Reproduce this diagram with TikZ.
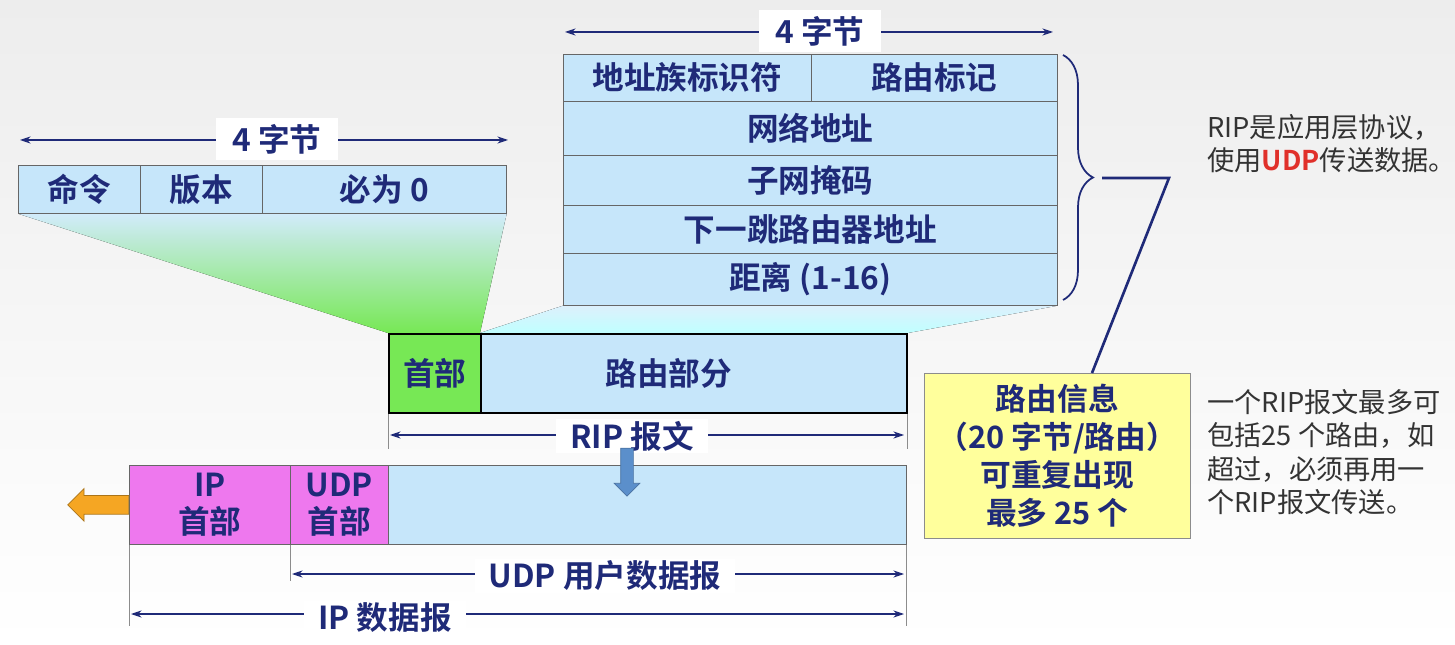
\documentclass[tikz,border=0pt]{standalone}
\usepackage{fontspec}
\setmainfont{Noto Sans CJK SC}[BoldFont=Noto Sans CJK SC Bold]
\usetikzlibrary{arrows.meta,decorations.pathreplacing,shapes.arrows,calc,backgrounds}

\definecolor{labnavy}{HTML}{1F2A78}
\definecolor{cellblue}{HTML}{C6E6FA}
\definecolor{hdrgreen}{HTML}{77E855}
\definecolor{ipmag}{HTML}{EE78EE}
\definecolor{infoyellow}{HTML}{FFFF9C}
\definecolor{textgray}{HTML}{333333}
\definecolor{udpred}{HTML}{E0302A}
\definecolor{downblue}{HTML}{5B8FCB}
\definecolor{outorange}{HTML}{F5A623}
\definecolor{bgtop}{HTML}{EDEDED}

\begin{document}
\begin{tikzpicture}[
  x=0.02cm,y=-0.02cm,
  lab/.style={font=\fontsize{18}{21}\selectfont\bfseries,text=labnavy},
  cell/.style={lab,draw=black!60,fill=cellblue,inner sep=0pt,anchor=north west,align=center},
  ripcell/.style={cell,draw=black,line width=1pt,minimum height=1.58cm},
  bytelab/.style={lab,fill=white,minimum width=2.44cm,minimum height=0.86cm},
  dimlab/.style={lab,fill=white,inner xsep=8pt,inner ysep=1pt},
  dim/.style={{Stealth[length=6pt,width=4pt]}-{Stealth[length=6pt,width=4pt]},labnavy,line width=0.6pt},
  tick/.style={black!45,line width=0.5pt},
  note/.style={font=\fontsize{15.5}{19}\selectfont,text=textgray,align=left,anchor=north west,inner sep=0pt}
]
\useasboundingbox (0,0) rectangle (1455,645);

% ---- RIP 首部 (4 字节) ----
\node[cell,minimum width=2.44cm,minimum height=0.96cm] (cmd) at (18,165) {命令};
\node[cell,minimum width=2.44cm,minimum height=0.96cm] (ver) at (140,165) {版本};
\node[cell,minimum width=4.88cm,minimum height=0.96cm] (zero) at (262,165) {必为 0};
\coordinate (h1) at (20,140);
\coordinate (h2) at (508,140);
\draw[dim] (h1) -- (h2);
\node[bytelab] (hbytes) at (277,139) {4 字节};

% ---- 路由信息 (每条 20 字节) ----
\node[cell,minimum width=4.96cm,minimum height=0.94cm] (afi) at (563,54) {地址族标识符};
\node[cell,minimum width=4.92cm,minimum height=0.94cm] (tag) at (811,54) {路由标记};
\node[cell,minimum width=9.88cm,minimum height=1.08cm] (net) at (563,101) {网络地址};
\node[cell,minimum width=9.88cm,minimum height=1.0cm] (mask) at (563,155) {子网掩码};
\node[cell,minimum width=9.88cm,minimum height=0.96cm] (hop) at (563,205) {下一跳路由器地址};
\node[cell,minimum width=9.88cm,minimum height=1.04cm] (dist) at (563,253) {距离 (1-16)};
\coordinate (t1) at (565,32);
\coordinate (t2) at (1053,32);
\draw[dim] (t1) -- (t2);
\node[bytelab] (tbytes) at (820,31) {4 字节};

% ---- RIP 报文 ----
\node[ripcell,fill=hdrgreen,minimum width=1.84cm] (riphdr) at (388,333) {首部};
\node[ripcell,minimum width=8.52cm] (route) at (480,333) {路由部分\hspace*{1cm}};
\draw[tick] (riphdr.south west) -- ++(0,35);
\draw[tick] (route.south east) -- ++(0,35);
\coordinate (r1) at (390,435);
\coordinate (r2) at (904,435);
\draw[dim] (r1) -- (r2);
\node[dimlab] (riplab) at (632,436) {RIP 报文};

% ---- 封装到 UDP / IP ----
\node[cell,fill=ipmag,minimum width=3.22cm,minimum height=1.58cm] (iph) at (129,465) {IP\\首部};
\node[cell,fill=ipmag,minimum width=1.96cm,minimum height=1.58cm] (udph) at (290,465) {UDP\\首部};
\node[cell,minimum width=10.36cm,minimum height=1.58cm] (payload) at (388,465) {};
\node[single arrow,rotate=-90,fill=downblue,draw=downblue!80!black,
      minimum height=0.96cm,minimum width=0.5cm,inner sep=0.12cm,
      single arrow head extend=0.13cm] (down) at (627,469) {};
\node[single arrow,rotate=180,fill=outorange,draw=outorange!70!black,
      minimum height=1.22cm,minimum width=0.64cm,inner sep=0.18cm,
      single arrow head extend=0.14cm,anchor=tail] (out) at (iph.west) {};
\draw[tick] (udph.south west) -- ++(0,36);
\draw[tick] (iph.south west) -- ++(0,81);
\draw[tick] (payload.south east) -- ++(0,81);
\coordinate (u1) at (292,574);
\coordinate (u2) at (904,574);
\draw[dim] (u1) -- (u2);
\node[dimlab] (udplab) at (605,576) {UDP 用户数据报};
\coordinate (i1) at (131,614);
\coordinate (i2) at (904,614);
\draw[dim] (i1) -- (i2);
\node[dimlab] (iplab) at (385,618) {IP 数据报};

% ---- 路由信息说明 ----
\node[lab,draw=black!45,fill=infoyellow,anchor=north west,align=center,
      font=\fontsize{17.5}{21.5}\selectfont\bfseries,
      minimum width=5.32cm,minimum height=3.3cm] (info) at (924,373)
  {路由信息\\（20 字节/路由）\\可重复出现\\最多 25 个};
\draw[decorate,decoration={brace,amplitude=0.6cm},labnavy,line width=1pt]
  (1063,55) -- (1063,300);
\coordinate (tip) at (1102,178);
\coordinate (bend) at (1169,178);
\draw[labnavy,line width=1.5pt] (tip) -- (bend) -- ($(info.north west)+(168,0)$);

% ---- 右侧文字 ----
\node[note] (why) at (1207,114)
  {RIP是应用层协议，\\使用\textcolor{udpred}{\bfseries UDP}传送数据。};
\node[note] (limit) at (1207,389)
  {一个RIP报文最多可\\包括25 个路由，如\\超过，必须再用一\\个RIP报文传送。};

% ---- 背景与展开投影 ----
\begin{scope}[on background layer]
  \fill[top color=bgtop,bottom color=white] (0,0) rectangle (1455,645);
  \fill[top color=cellblue!80!white,bottom color=hdrgreen]
    (cmd.south west) -- (zero.south east) -- (route.north west) -- (riphdr.north west) -- cycle;
  \fill[top color=cellblue!60!white,bottom color=cyan!25]
    (dist.south west) -- (dist.south east) -- (route.north east) -- (route.north west) -- cycle;
\end{scope}
\end{tikzpicture}
\end{document}
